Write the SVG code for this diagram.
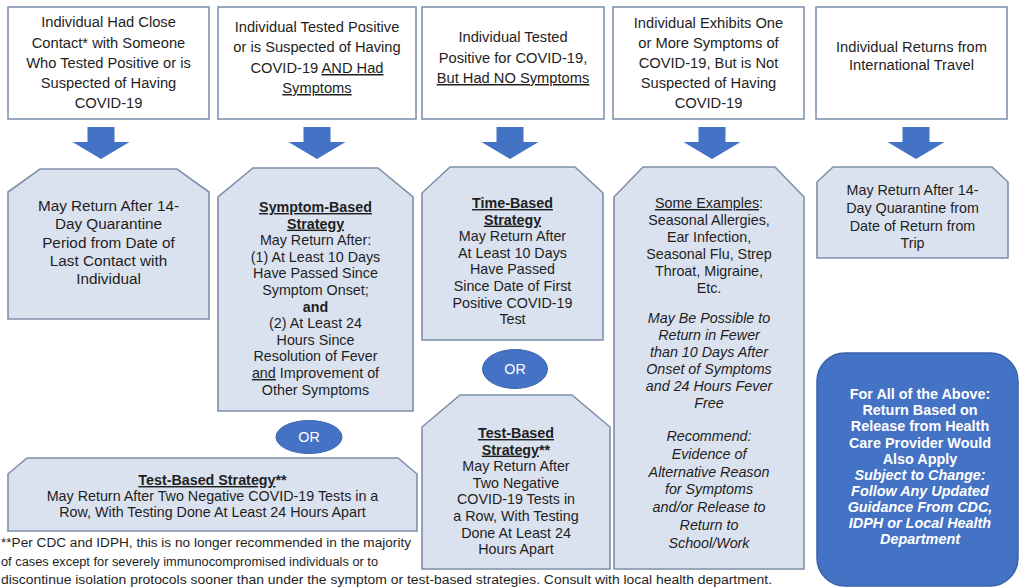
<svg xmlns="http://www.w3.org/2000/svg" width="1020" height="588" viewBox="0 0 1020 588">
<defs>
<style>
text{font-family:"Liberation Sans",Arial,sans-serif;fill:#1e1e1e;text-anchor:middle}
.top{fill:#ffffff;stroke:#7f93ad;stroke-width:1.6}
.res{fill:#dbe2ef;stroke:#7f8fa8;stroke-width:1.6}
.arr{fill:#4472c4}
.or{fill:#4472c4;stroke:#3d66b0;stroke-width:1}
.tt{font-size:14.7px}
.t14{font-size:14.3px}
.t15{font-size:15.3px}
.b{font-weight:bold}
.i{font-style:italic}
.u{text-decoration:underline}
.w{fill:#ffffff}
.fn{font-family:"Liberation Sans",Arial,sans-serif;font-size:12.5px;text-anchor:start;fill:#1e1e1e}
</style>
</defs>
<rect width="1020" height="588" fill="#ffffff"/>

<g id="connectors">
<polygon class="arr" points="87.5,127 114.5,127 114.5,142 129.5,142 101,159 72.5,142 87.5,142"/>
<polygon class="arr" points="303.5,127 330.5,127 330.5,142 345.5,142 317,159 288.5,142 303.5,142"/>
<polygon class="arr" points="496.5,127 523.5,127 523.5,142 538.5,142 510,159 481.5,142 496.5,142"/>
<polygon class="arr" points="698.5,127 725.5,127 725.5,142 740.5,142 712,159 683.5,142 698.5,142"/>
<polygon class="arr" points="902.5,127 929.5,127 929.5,142 944.5,142 916,159 887.5,142 902.5,142"/>
</g>

<g id="top1">
<rect class="top" x="8" y="7" width="201" height="112"/>
<text class="tt"><tspan x="108.5" y="27">Individual Had Close</tspan><tspan x="108.5" y="48">Contact* with Someone</tspan><tspan x="108.5" y="68">Who Tested Positive or is</tspan><tspan x="108.5" y="88">Suspected of Having</tspan><tspan x="108.5" y="108">COVID-19</tspan></text>
</g>
<g id="top2">
<rect class="top" x="218" y="7" width="198" height="112"/>
<text class="tt"><tspan x="317" y="32">Individual Tested Positive</tspan><tspan x="317" y="52">or is Suspected of Having</tspan><tspan x="317" y="73">COVID-19 <tspan class="u">AND Had</tspan></tspan><tspan x="317" y="93" class="u">Symptoms</tspan></text>
</g>
<g id="top3">
<rect class="top" x="422" y="7" width="182" height="112"/>
<text class="tt"><tspan x="513" y="42">Individual Tested</tspan><tspan x="513" y="63">Positive for COVID-19,</tspan><tspan x="513" y="83" class="u">But Had NO Symptoms</tspan></text>
</g>
<g id="top4">
<rect class="top" x="613" y="7" width="191" height="112"/>
<text class="tt"><tspan x="708.5" y="28">Individual Exhibits One</tspan><tspan x="708.5" y="48">or More Symptoms of</tspan><tspan x="708.5" y="68">COVID-19, But is Not</tspan><tspan x="708.5" y="88">Suspected of Having</tspan><tspan x="708.5" y="108">COVID-19</tspan></text>
</g>
<g id="top5">
<rect class="top" x="816" y="7" width="191" height="112"/>
<text class="tt"><tspan x="911.5" y="52">Individual Returns from</tspan><tspan x="911.5" y="70">International Travel</tspan></text>
</g>

<g id="resA">
<polygon class="res" points="40,169 177,169 209,192 209,319 8,319 8,192"/>
<text class="t15"><tspan x="108.5" y="211">May Return After 14-</tspan><tspan x="108.5" y="229.3">Day Quarantine</tspan><tspan x="108.5" y="247.6">Period from Date of</tspan><tspan x="108.5" y="265.9">Last Contact with</tspan><tspan x="108.5" y="284.2">Individual</tspan></text>
</g>
<g id="resB">
<polygon class="res" points="253,168 378,168 413,197 413,411 218,411 218,197"/>
<text class="t14"><tspan x="315.5" y="212" class="b u">Symptom-Based</tspan><tspan x="315.5" y="228.6" class="b u">Strategy</tspan><tspan x="315.5" y="245.2">May Return After:</tspan><tspan x="315.5" y="261.8">(1) At Least 10 Days</tspan><tspan x="315.5" y="278.4">Have Passed Since</tspan><tspan x="315.5" y="295">Symptom Onset;</tspan><tspan x="315.5" y="311.6" class="b">and</tspan><tspan x="315.5" y="328.2">(2) At Least 24</tspan><tspan x="315.5" y="344.8">Hours Since</tspan><tspan x="315.5" y="361.4">Resolution of Fever</tspan><tspan x="315.5" y="378"><tspan class="u">and</tspan> Improvement of</tspan><tspan x="315.5" y="394.6">Other Symptoms</tspan></text>
</g>
<g id="resC">
<polygon class="res" points="450,167 575,167 603,193 603,340 422,340 422,193"/>
<text class="t14"><tspan x="512.5" y="208" class="b u">Time-Based</tspan><tspan x="512.5" y="224.6" class="b u">Strategy</tspan><tspan x="512.5" y="241.2">May Return After</tspan><tspan x="512.5" y="257.8">At Least 10 Days</tspan><tspan x="512.5" y="274.4">Have Passed</tspan><tspan x="512.5" y="291">Since Date of First</tspan><tspan x="512.5" y="307.6">Positive COVID-19</tspan><tspan x="512.5" y="324.2">Test</tspan></text>
</g>
<g id="or1">
<ellipse class="or" cx="515" cy="369" rx="32.5" ry="19.5"/>
<text class="t14 w" x="515" y="374">OR</text>
</g>
<g id="resD">
<polygon class="res" points="643,167 775,167 804,197 804,569 614,569 614,197"/>
<text class="t14"><tspan x="709" y="208"><tspan class="u">Some Examples</tspan>:</tspan><tspan x="709" y="225">Seasonal Allergies,</tspan><tspan x="709" y="242">Ear Infection,</tspan><tspan x="709" y="259">Seasonal Flu, Strep</tspan><tspan x="709" y="276">Throat, Migraine,</tspan><tspan x="709" y="293">Etc.</tspan></text>
<text class="t14 i"><tspan x="709" y="323">May Be Possible to</tspan><tspan x="709" y="340">Return in Fewer</tspan><tspan x="709" y="357">than 10 Days After</tspan><tspan x="709" y="374">Onset of Symptoms</tspan><tspan x="709" y="391">and 24 Hours Fever</tspan><tspan x="709" y="408">Free</tspan></text>
<text class="t14 i"><tspan x="709" y="441">Recommend:</tspan><tspan x="709" y="458.8">Evidence of</tspan><tspan x="709" y="476.6">Alternative Reason</tspan><tspan x="709" y="494.4">for Symptoms</tspan><tspan x="709" y="512.2">and/or Release to</tspan><tspan x="709" y="530">Return to</tspan><tspan x="709" y="547.8">School/Work</tspan></text>
</g>
<g id="resE">
<polygon class="res" points="460,395 572,395 610,427 610,569 422,569 422,427"/>
<text class="t14"><tspan x="516" y="438" class="b u">Test-Based</tspan><tspan x="516" y="454.6"><tspan class="b u">Strategy</tspan><tspan class="b">**</tspan></tspan><tspan x="516" y="471.2">May Return After</tspan><tspan x="516" y="487.8">Two Negative</tspan><tspan x="516" y="504.4">COVID-19 Tests in</tspan><tspan x="516" y="521">a Row, With Testing</tspan><tspan x="516" y="537.6">Done At Least 24</tspan><tspan x="516" y="554.2">Hours Apart</tspan></text>
</g>
<g id="resF">
<polygon class="res" points="833,167 992,167 1008,182 1008,258 817,258 817,182"/>
<text class="t14"><tspan x="912.5" y="195">May Return After 14-</tspan><tspan x="912.5" y="213">Day Quarantine from</tspan><tspan x="912.5" y="230.5">Date of Return from</tspan><tspan x="912.5" y="248">Trip</tspan></text>
</g>
<g id="or2">
<ellipse class="or" cx="309" cy="437" rx="33" ry="16.5"/>
<text class="t14 w" x="309" y="442">OR</text>
</g>
<g id="resG">
<polygon class="res" points="27,458 398,458 417,474 417,531 8,531 8,474"/>
<text class="t14"><tspan x="212.5" y="485"><tspan class="b u">Test-Based Strategy</tspan><tspan class="b">**</tspan></tspan><tspan x="212.5" y="501">May Return After Two Negative COVID-19 Tests in a</tspan><tspan x="212.5" y="517">Row, With Testing Done At Least 24 Hours Apart</tspan></text>
</g>
<g id="note">
<rect x="817" y="353" width="201" height="233" rx="28" ry="28" fill="#4472c4" stroke="#3a62aa" stroke-width="1.5"/>
<text class="b w" style="font-size:14.4px"><tspan x="920" y="399">For All of the Above:</tspan><tspan x="920" y="415">Return Based on</tspan><tspan x="920" y="431">Release from Health</tspan><tspan x="920" y="448">Care Provider Would</tspan><tspan x="920" y="464">Also Apply</tspan><tspan x="920" y="480" class="i">Subject to Change:</tspan><tspan x="920" y="496" class="i">Follow Any Updated</tspan><tspan x="920" y="512" class="i">Guidance From CDC,</tspan><tspan x="920" y="528" class="i">IDPH or Local Health</tspan><tspan x="920" y="544" class="i">Department</tspan></text>
</g>
<g id="footnote">
<text class="fn" x="1" y="547" textLength="410" lengthAdjust="spacingAndGlyphs">**Per CDC and IDPH, this is no longer recommended in the majority</text>
<text class="fn" x="1" y="566" textLength="377" lengthAdjust="spacingAndGlyphs">of cases except for severely immunocompromised individuals or to</text>
<text class="fn" x="1" y="584" textLength="771" lengthAdjust="spacingAndGlyphs">discontinue isolation protocols sooner than under the symptom or test-based strategies.  Consult with local health department.</text>
</g>
</svg>
